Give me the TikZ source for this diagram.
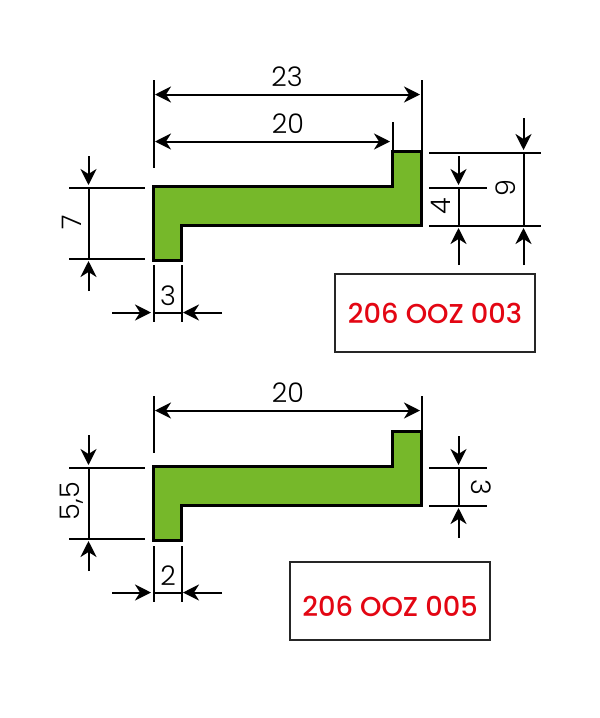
\documentclass[tikz,border=0pt]{standalone}
\usepackage{fontspec}
\setmainfont{Poppins}[UprightFont=* Light]
\newfontfamily\redfont{Poppins}[UprightFont=* Medium]
\usetikzlibrary{arrows.meta}
\definecolor{profgreen}{HTML}{76B82A}
\definecolor{codered}{HTML}{E30613}
\tikzset{
  dimline/.style={draw=black,line width=2pt},
  dimarrow/.style={draw=black,line width=2pt,-{Stealth[length=16pt,width=16pt,inset=5pt]}},
  profile/.style={draw=black,line width=3pt,fill=profgreen,line join=miter},
  codebox/.style={draw=black!85,line width=2pt,fill=white,minimum width=200pt,minimum height=78pt,inner sep=0pt},
  codetext/.style={text=codered,font=\redfont\fontsize{27.3}{30}\selectfont},
  dimtext/.style={font=\fontsize{27}{30}\selectfont,inner sep=0pt}
}
\begin{document}
\begin{tikzpicture}[x=1pt,y=-1pt]
\useasboundingbox[fill=white] (0,0) rectangle (600,718);
% top profile
\draw[profile] (153.5,186) -- (392.5,186) -- (392.5,151.5) -- (421,151.5) -- (421,225) -- (181,225) -- (181,260) -- (153.5,260) -- cycle;
\draw[dimline] (153.5,80) -- (153.5,168);
\draw[dimline] (421.5,80) -- (421.5,151);
\draw[dimline] (392.5,122) -- (392.5,152);
\draw[dimarrow] (250,94.5) -- (155,94.5);
\draw[dimarrow] (320,94.5) -- (420,94.5);
\draw[dimline] (250,94.5) -- (320,94.5);
\draw[dimarrow] (250,141.5) -- (155,141.5);
\draw[dimarrow] (300,141.5) -- (390,141.5);
\draw[dimline] (250,141.5) -- (300,141.5);
\node[dimtext] (t23) at (287,77) {23};
\node[dimtext] (t20) at (288,124) {20};
% height 7
\draw[dimline] (69,187.5) -- (145,187.5);
\draw[dimline] (69,258.5) -- (145,258.5);
\draw[dimline] (88.5,187.5) -- (88.5,258.5);
\draw[dimarrow] (88.5,156) -- (88.5,185);
\draw[dimarrow] (88.5,291) -- (88.5,261);
\node[dimtext,rotate=90] (t7) at (72,222) {7};
% width 3
\draw[dimline] (153.5,265) -- (153.5,322);
\draw[dimline] (181.5,265) -- (181.5,322);
\draw[dimline] (153.5,312.5) -- (181.5,312.5);
\draw[dimarrow] (112,312.5) -- (151,312.5);
\draw[dimarrow] (222,312.5) -- (183,312.5);
\node[dimtext] (t3) at (168,296) {3};
% right dims
\draw[dimline] (429,152.5) -- (541,152.5);
\draw[dimline] (429,187.5) -- (487,187.5);
\draw[dimline] (429,225.5) -- (541,225.5);
\draw[dimline] (458.5,187.5) -- (458.5,225.5);
\draw[dimline] (523.5,152.5) -- (523.5,225.5);
\draw[dimarrow] (458.5,156) -- (458.5,185);
\draw[dimarrow] (523.5,118) -- (523.5,150);
\draw[dimarrow] (458.5,265) -- (458.5,228);
\draw[dimarrow] (523.5,265) -- (523.5,228);
\node[dimtext,rotate=90] (t4) at (441,206) {4};
\node[dimtext,rotate=90] (t9) at (506,188) {9};
\node[codebox] (box1) at (434.5,312.5) {};
\node[codetext] (code1) at (435,313) {206 OOZ 003};
% bottom profile
\draw[profile] (153.5,466) -- (392.5,466) -- (392.5,431) -- (421,431) -- (421,505) -- (181,505) -- (181,540.5) -- (153.5,540.5) -- cycle;
\draw[dimline] (153.5,396) -- (153.5,453);
\draw[dimline] (421.5,396) -- (421.5,431);
\draw[dimarrow] (250,410.5) -- (155,410.5);
\draw[dimarrow] (320,410.5) -- (420,410.5);
\draw[dimline] (250,410.5) -- (320,410.5);
\node[dimtext] (t20b) at (288,393) {20};
\draw[dimline] (69,467.5) -- (145,467.5);
\draw[dimline] (69,538.5) -- (145,538.5);
\draw[dimline] (88.5,467.5) -- (88.5,538.5);
\draw[dimarrow] (88.5,435) -- (88.5,465);
\draw[dimarrow] (88.5,571) -- (88.5,541);
\node[dimtext,rotate=90] (t55) at (72,501) {5,5};
\draw[dimline] (153.5,546) -- (153.5,602);
\draw[dimline] (181.5,546) -- (181.5,602);
\draw[dimline] (153.5,592.5) -- (181.5,592.5);
\draw[dimarrow] (112,592.5) -- (151,592.5);
\draw[dimarrow] (222,592.5) -- (183,592.5);
\node[dimtext] (t2) at (168,576) {2};
\draw[dimline] (429,467.5) -- (487,467.5);
\draw[dimline] (429,505.5) -- (487,505.5);
\draw[dimline] (458.5,467.5) -- (458.5,505.5);
\draw[dimarrow] (458.5,436) -- (458.5,465);
\draw[dimarrow] (458.5,538) -- (458.5,508);
\node[dimtext,rotate=-90] (t3b) at (481,487) {3};
\node[codebox] (box2) at (389.5,600.5) {};
\node[codetext] (code2) at (390,606) {206 OOZ 005};
\end{tikzpicture}
\end{document}
